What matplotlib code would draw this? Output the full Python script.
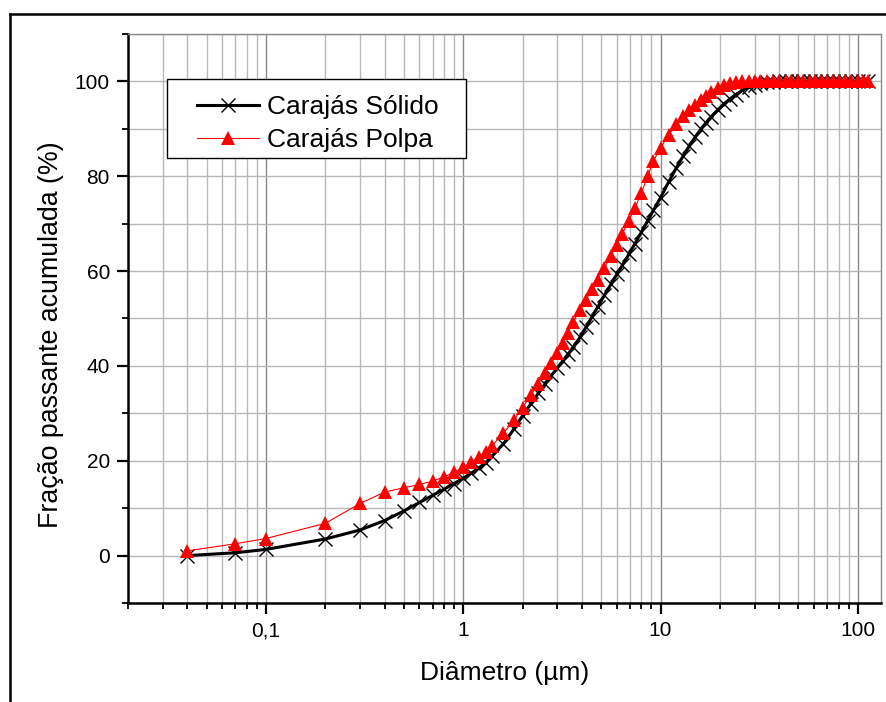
import matplotlib
matplotlib.use("Agg")
import matplotlib.pyplot as plt
from matplotlib.ticker import FixedLocator, LogLocator, NullFormatter, FuncFormatter, MultipleLocator
from matplotlib.lines import Line2D
from matplotlib.patches import Rectangle

plt.rcParams['font.family'] = ['Liberation Sans', 'DejaVu Sans']

# diametro das classes (um)
diametro = [0.04, 0.07, 0.1, 0.2, 0.3, 0.4, 0.5, 0.6, 0.7, 0.8, 0.9, 1.0, 1.1, 1.2, 1.3,
            1.4, 1.6, 1.8, 2.0, 2.2, 2.4, 2.6, 2.8, 3.0, 3.2, 3.4, 3.6, 3.9, 4.2, 4.5, 4.8,
            5.2, 5.6, 6.0, 6.4, 6.9, 7.4, 8.0, 8.6, 9.2, 10, 11, 12, 13, 14, 15, 16, 17, 18,
            19.5, 21, 22.5, 24, 26, 28, 30, 32, 34.5, 37, 40, 43, 46, 50, 53, 57, 61, 65,
            70, 75, 80, 86, 92, 100, 106, 112]

# fracao passante acumulada (%)
solido = [0.0, 0.6, 1.3, 3.5, 5.4, 7.4, 9.4, 11.2, 12.7, 14.0, 15.2, 16.3, 17.4, 18.5, 19.6,
          21.0, 23.6, 26.6, 29.5, 32.0, 34.2, 36.2, 38.0, 39.6, 41.1, 42.5, 43.9, 46.0, 48.2, 50.4, 52.4,
          54.9, 57.2, 59.3, 61.2, 63.5, 65.7, 68.2, 70.6, 72.8, 75.5, 78.8, 81.7, 84.2, 86.4, 88.3, 89.9, 91.3, 92.5,
          94.0, 95.3, 96.3, 97.2, 98.1, 98.8, 99.3, 99.6, 99.8, 99.9, 100, 100, 100, 100, 100, 100, 100, 100,
          100, 100, 100, 100, 100, 100, 100, 100]

polpa = [1.0, 2.5, 3.6, 6.8, 11.0, 13.4, 14.3, 15.0, 15.7, 16.6, 17.6, 18.6, 19.7, 20.8, 21.9,
         23.2, 25.8, 28.5, 31.2, 33.8, 36.2, 38.5, 40.7, 42.8, 44.9, 47.0, 49.2, 51.7, 54.0, 56.2, 58.2,
         60.7, 63.2, 65.6, 67.8, 70.6, 73.2, 76.5, 80.0, 83.2, 86.0, 88.7, 91.0, 92.7, 94.0, 95.0, 96.0, 97.0, 97.8,
         98.7, 99.3, 99.7, 99.9, 100, 100, 100, 100, 100, 100, 100, 100, 100, 100, 100, 100, 100, 100,
         100, 100, 100, 100, 100, 100, 100, 100]

fig = plt.figure(figsize=(8.87, 7.02), dpi=100)
ax = fig.add_axes([0.1443, 0.141, 0.8489, 0.8106])

ax.plot(diametro, solido, color='black', lw=2.2, marker='x', ms=10.5, mew=1.0,
        label='Carajás Sólido', zorder=3)
ax.plot(diametro, polpa, color='red', lw=0.8, marker='^', ms=10, mew=0,
        markerfacecolor='red', label='Carajás Polpa', zorder=4)

ax.set_xscale('log')
ax.set_xlim(0.02, 131)
ax.set_ylim(-10, 110)

ax.xaxis.set_major_locator(FixedLocator([0.1, 1, 10, 100]))
ax.xaxis.set_minor_locator(LogLocator(base=10, subs=range(2, 10)))
ax.xaxis.set_minor_formatter(NullFormatter())
ax.xaxis.set_major_formatter(FuncFormatter(lambda v, p: ('%g' % v).replace('.', ',')))
ax.yaxis.set_major_locator(MultipleLocator(20))
ax.yaxis.set_minor_locator(MultipleLocator(10))

# grade
ax.grid(True, which='major', axis='x', color='#8a8a8a', lw=1.0)
ax.grid(True, which='minor', axis='x', color='#b8b8b8', lw=1.0)
ax.grid(True, which='both', axis='y', color='#b8b8b8', lw=1.0)
ax.set_axisbelow(True)

for s in ['left', 'bottom']:
    ax.spines[s].set_linewidth(1.8)
for s in ['top', 'right']:
    ax.spines[s].set_color('#8a8a8a')
    ax.spines[s].set_linewidth(1.0)

ax.tick_params(which='major', length=8, width=1.6, labelsize=15, pad=5)
ax.tick_params(which='minor', length=4, width=1.3)

ax.set_xlabel('Diâmetro (µm)', fontsize=19, labelpad=15)
ax.set_ylabel('Fração passante acumulada (%)', fontsize=19.3)
ax.yaxis.set_label_coords(-0.085, 0.471)

# legenda com moldura propria
fig.add_artist(Rectangle((167/887, 1 - 158/702), 299/887, 79/702, transform=fig.transFigure,
                         facecolor='white', edgecolor='black', lw=1.0, zorder=5))
leg = fig.legend(*ax.get_legend_handles_labels(), loc='upper left',
                 bbox_to_anchor=(184/887, 1 - 82/702), bbox_transform=fig.transFigure,
                 fontsize=19, frameon=False, handlelength=2.35, handletextpad=0.3,
                 borderpad=0, labelspacing=0.33)
leg.set_zorder(6)

# moldura externa
fig.add_artist(Line2D([10/887, 10/887], [0, 1 - 14/702], color='black', lw=1.8,
                      transform=fig.transFigure))
fig.add_artist(Line2D([10/887, 1], [1 - 14/702, 1 - 14/702], color='black', lw=1.8,
                      transform=fig.transFigure))

fig.savefig('out.png', dpi=100)
